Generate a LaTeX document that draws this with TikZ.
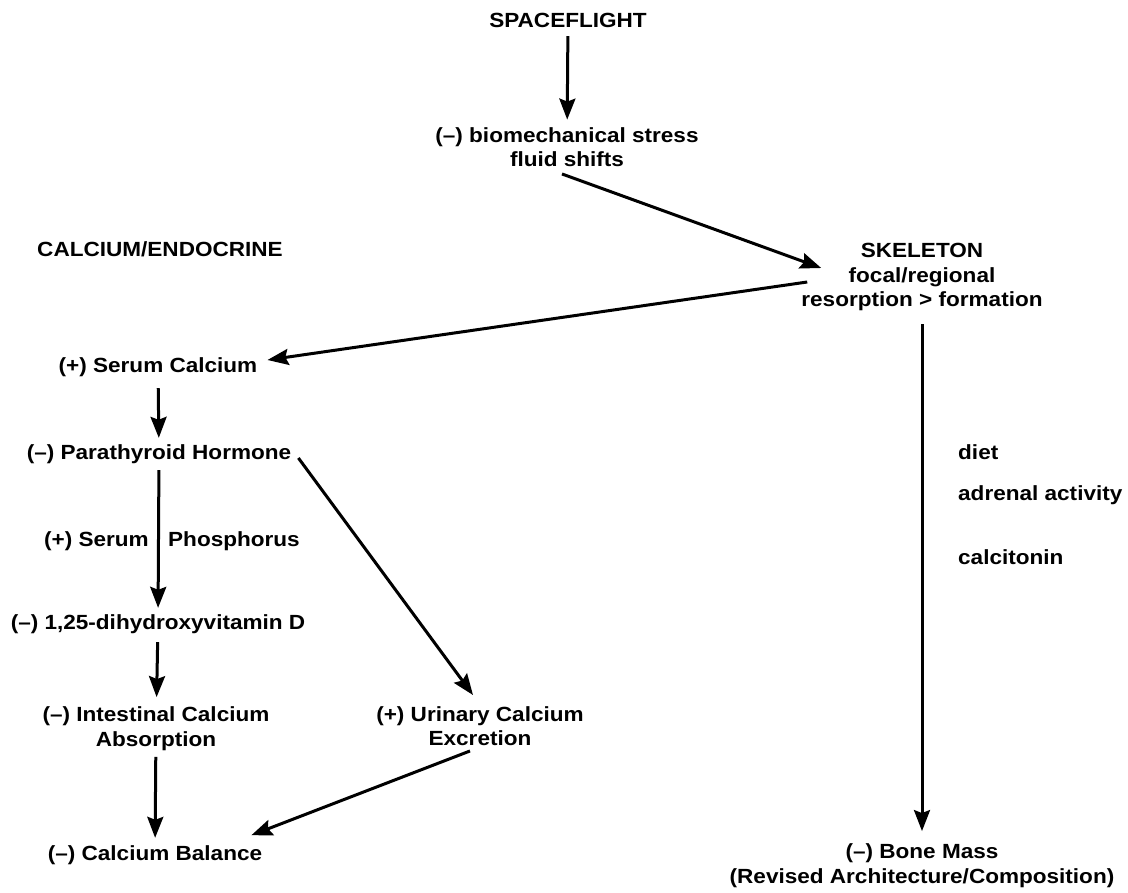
\documentclass[tikz,border=0pt]{standalone}
\usepackage{fontspec}
\setmainfont{Liberation Sans}[FakeStretch=1.1]
\usepackage{tikz}
\usetikzlibrary{arrows.meta,positioning,calc}

\begin{document}
\begin{tikzpicture}[x=1pt,y=-1pt,
  txt/.style={inner sep=0pt,align=center,font=\bfseries\fontsize{20.5}{24.5}\selectfont},
  pfeil/.style={line width=3pt,-{Stealth[length=21pt,width=16pt,inset=3pt]}}]
%Koordinaten wie im Original in Pixel, y zeigt nach unten
\useasboundingbox (0,0) rectangle (1128,893);
\node[txt] (spaceflight) at (568,20) {SPACEFLIGHT};
\node[txt] (biomech) at (567,147) {(--) biomechanical stress\\fluid shifts};
\node[txt] (calcendo) at (160,249) {CALCIUM/ENDOCRINE};
\node[txt] (skeleton) at (922,277) {SKELETON\\focal/regional\\resorption > formation};
\node[txt] (serca) at (158,367) {(+) Serum Calcium};
\node[txt] (pth) at (159,454) {(--) Parathyroid Hormone};
\node[txt,anchor=east] (serum) at (149,541) {(+) Serum};
\node[txt,anchor=west] (phos) at (168,541) {Phosphorus};
\node[txt] (vitd) at (158,624) {(--) 1,25-dihydroxyvitamin D};
\node[txt] (intes) at (156,728.5) {(--) Intestinal Calcium\\Absorption};
\node[txt] (urin) at (480,726) {(+) Urinary Calcium\\Excretion};
\node[txt] (bal) at (155,855) {(--) Calcium Balance};
\node[txt,anchor=west] (diet) at (958,452) {diet};
\node[txt,anchor=west] (adrenal) at (958,495) {adrenal activity};
\node[txt,anchor=west] (calcitonin) at (958,557) {calcitonin};
\node[txt] (bone) at (922,865.5) {(--) Bone Mass\\(Revised Architecture/Composition)};
%Pfeile
\draw[pfeil,shorten <=8.7pt,shorten >=7.4pt] (spaceflight) -- (biomech);
\draw[pfeil] ([shift={(-5,7)}]biomech.south) -- ([shift={(20,-9)}]skeleton.west);
\draw[pfeil] ([shift={(6,5)}]skeleton.west) -- ([shift={(10,-7)}]serca.east);
\draw[pfeil,shorten <=11.4pt,shorten >=6.4pt] (serca) -- (pth);
\draw[pfeil,shorten <=6.4pt,shorten >=6.4pt] (pth) -- (vitd);
\draw[pfeil] ([shift={(7,4)}]pth.east) -- ([shift={(-7,-11)}]urin.north);
\draw[pfeil,shorten <=8.4pt,shorten >=9.4pt] (vitd) -- (intes);
\draw[pfeil,shorten <=6.4pt,shorten >=7.4pt] (intes) -- (bal);
\draw[pfeil] ([shift={(-10,5)}]urin.south) -- ([shift={(-11,-10)}]bal.north east);
\draw[pfeil,shorten <=13.4pt,shorten >=12.4pt] (skeleton) -- (bone);
\end{tikzpicture}
\end{document}
